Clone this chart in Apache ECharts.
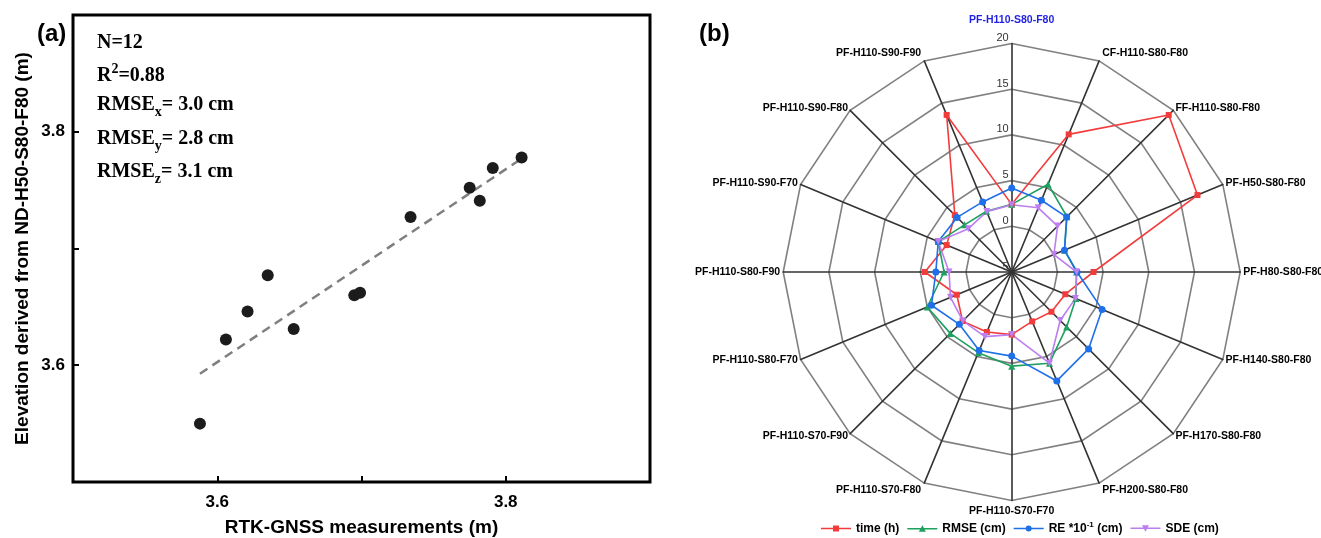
<!DOCTYPE html>
<html>
<head>
<meta charset="utf-8">
<script src="https://cdn.jsdelivr.net/npm/echarts@6/dist/echarts.min.js"></script>
<style>
html,body{margin:0;padding:0;background:#fff;}
#chart{width:1321px;height:538px;}
</style>
</head>
<body>
<div id="chart"></div>
<script>
// ---------- Panel (a): scatter ----------
const rtkX = [3.588, 3.606, 3.621, 3.635, 3.653, 3.695, 3.699, 3.734, 3.775, 3.782, 3.791, 3.811];
const elevY = [3.550, 3.622, 3.646, 3.677, 3.631, 3.660, 3.662, 3.727, 3.752, 3.741, 3.769, 3.778];
const xTickLabels = [3.6, 3.8];
const yTickLabels = [3.6, 3.8];
const statLines = ['N=12', 'R2=0.88', 'RMSEx= 3.0 cm', 'RMSEy= 2.8 cm', 'RMSEz= 3.1 cm'];

// ---------- Panel (b): radar (clockwise from top) ----------
const radarCategories = [
  'PF-H110-S80-F80', 'CF-H110-S80-F80', 'FF-H110-S80-F80', 'PF-H50-S80-F80',
  'PF-H80-S80-F80', 'PF-H140-S80-F80', 'PF-H170-S80-F80', 'PF-H200-S80-F80',
  'PF-H110-S70-F70', 'PF-H110-S70-F80', 'PF-H110-S70-F90', 'PF-H110-S80-F70',
  'PF-H110-S80-F90', 'PF-H110-S90-F70', 'PF-H110-S90-F80', 'PF-H110-S90-F90'
];
const timeH   = [2.4, 11.3, 19.3, 17.0, 3.95, 1.35, 1.15, 0.85, 1.85, 2.1, 2.6, 1.5, 4.5, 2.7, 3.8, 13.6];
const rmseCm  = [2.4, 5.4, 3.55, 1.25, 2.1, 2.6, 3.5, 5.8, 5.3, 4.55, 4.5, 5.0, 2.4, 3.7, 2.3, 2.2];
const reCm    = [4.2, 3.5, 3.5, 1.25, 2.15, 5.7, 6.9, 7.9, 4.2, 4.3, 3.1, 4.5, 3.3, 3.7, 3.45, 3.3];
const sdeCm   = [2.35, 2.6, 2.1, 0.0, 2.1, 2.55, 2.5, 5.8, 1.85, 2.65, 2.55, 2.25, 1.85, 3.7, 1.7, 2.15];
const seriesNames = ['time (h)', 'RMSE (cm)', 'RE *10-1 (cm)', 'SDE (cm)'];
const radarTicks = [-5, 20];

const SANS = 'Liberation Sans, Arial, sans-serif';
const SERIF = 'Liberation Serif, Times New Roman, serif';

// linear regression for the dashed fit line
const n = rtkX.length;
const mx = rtkX.reduce((a, b) => a + b, 0) / n;
const my = elevY.reduce((a, b) => a + b, 0) / n;
let sxy = 0, sxx = 0;
for (let i = 0; i < n; i++) { sxy += (rtkX[i] - mx) * (elevY[i] - my); sxx += (rtkX[i] - mx) ** 2; }
const slope = sxy / sxx, icpt = my - slope * mx;
const xMin = Math.min(...rtkX), xMax = Math.max(...rtkX);
const fitLine = [[xMin, icpt + slope * xMin], [xMax, icpt + slope * xMax]];

// ECharts radar runs counter-clockwise; reorder so the picture runs clockwise
const N16 = radarCategories.length;
const ccw = radarCategories.map((_, k) => (N16 - k) % N16);
const reorder = arr => ccw.map(i => arr[i]);

const indicators = ccw.map((i, k) => {
  const ind = { name: radarCategories[i], min: radarTicks[0], max: radarTicks[1] };
  if (i === 1 || i === 15 || i === 7 || i === 9) ind.nameGap = 8;
  if (i === 8) ind.nameGap = 5;
  if (i === 0) {
    ind.color = '#1f1fe6';
    ind.nameGap = 18;
    ind.axisLabel = { show: true };
  }
  return ind;
});

const colors = ['#f23c3c', '#1ea05f', '#1f6fe8', '#bd7ef0'];
const symbols = ['rect', 'triangle', 'circle', 'triangle'];
const symbolRot = [0, 0, 0, 180];
const values = [timeH, rmseCm, reCm, sdeCm];

const legendIcons = [
  'path://M0,3.3H30V4.7H0Z M12,1H18V7H12Z',
  'path://M0,3.3H30V4.7H0Z M15,0.5L18.5,7L11.5,7Z',
  'path://M0,3.3H30V4.7H0Z M12,4A3,3 0 1,1 18,4A3,3 0 1,1 12,4Z',
  'path://M0,3.3H30V4.7H0Z M11.5,1L18.5,1L15,7.5Z'
];

const richStat = {
  m: { fontFamily: SERIF, fontWeight: 'bold', fontSize: 20, color: '#000', lineHeight: 28, verticalAlign: 'middle' },
  sub: { fontFamily: SERIF, fontWeight: 'bold', fontSize: 14, color: '#000', lineHeight: 12, verticalAlign: 'bottom' },
  sup: { fontFamily: SERIF, fontWeight: 'bold', fontSize: 14, color: '#000', lineHeight: 14, verticalAlign: 'top' }
};
function statRich(s) {
  if (s.startsWith('R2')) return '{m|R}{sup|2}{m|' + s.slice(2) + '}';
  if (s.startsWith('RMSE')) return '{m|RMSE}{sub|' + s[4] + '}{m|' + s.slice(5) + '}';
  return '{m|' + s + '}';
}
const statTops = [33, 62, 95, 129, 162];

const chart = echarts.init(document.getElementById('chart'), null, { renderer: 'canvas' });
chart.setOption({
  backgroundColor: '#fff',
  animation: false,
  grid: {
    left: 73, top: 15, right: 671, bottom: 56, outerBoundsMode: 'none', containLabel: false,
    show: true, borderColor: '#000', borderWidth: 3, backgroundColor: 'transparent'
  },
  xAxis: {
    type: 'value', min: 3.5, max: 3.9, interval: 0.1,
    name: 'RTK-GNSS measurements (m)', nameLocation: 'middle', nameGap: 36,
    nameTextStyle: { fontFamily: SANS, fontWeight: 'bold', fontSize: 19, color: '#000' },
    axisLine: { show: false },
    axisTick: { show: true, inside: true, length: 6, lineStyle: { color: '#000', width: 2 } },
    splitLine: { show: false },
    axisLabel: {
      margin: 12, fontFamily: SANS, fontWeight: 'bold', fontSize: 17, color: '#000',
      formatter: v => xTickLabels.some(t => Math.abs(t - v) < 1e-6) ? v.toFixed(1) : ''
    }
  },
  yAxis: {
    type: 'value', min: 3.5, max: 3.9, interval: 0.1,
    name: 'Elevation derived from ND-H50-S80-F80 (m)', nameLocation: 'middle', nameGap: 41,
    nameTextStyle: { fontFamily: SANS, fontWeight: 'bold', fontSize: 19, color: '#000' },
    axisLine: { show: false },
    axisTick: { show: true, inside: true, length: 6, lineStyle: { color: '#000', width: 2 } },
    splitLine: { show: false },
    axisLabel: {
      margin: 8, fontFamily: SANS, fontWeight: 'bold', fontSize: 17, color: '#000',
      formatter: v => yTickLabels.some(t => Math.abs(t - v) < 1e-6) ? v.toFixed(1) : ''
    }
  },
  radar: {
    center: [1011.7, 272], radius: 228.5, startAngle: 90,
    shape: 'polygon', splitNumber: 5,
    indicator: indicators,
    nameGap: 3,
    axisName: { color: '#000', fontFamily: SANS, fontWeight: 'bold', fontSize: 10.5 },
    splitLine: { lineStyle: { color: '#808080', width: 1.6 } },
    splitArea: { show: false },
    axisLine: { lineStyle: { color: '#333', width: 1.6 } },
    axisTick: { show: false },
    axisLabel: { show: false, color: '#333', fontFamily: SANS, fontSize: 11, margin: 3, verticalAlign: 'bottom', showMinLabel: true }
  },
  legend: {
    left: 816, top: 516, itemWidth: 30, itemHeight: 8, itemGap: 8,
    data: seriesNames.map((nm, i) => ({ name: nm, icon: legendIcons[i] })),
    formatter: nm => nm === seriesNames[2] ? '{b|RE *10}{s|-1}{b| (cm)}' : '{b|' + nm + '}',
    textStyle: {
      rich: {
        b: { fontFamily: SANS, fontWeight: 'bold', fontSize: 12, color: '#000', lineHeight: 15 },
        s: { fontFamily: SANS, fontWeight: 'bold', fontSize: 8, color: '#000', lineHeight: 9, verticalAlign: 'top' }
      }
    }
  },
  graphic: [
    { type: 'text', left: 37, top: 22, style: { text: '(a)', font: 'bold 24px ' + SANS, fill: '#000' } },
    { type: 'text', left: 699, top: 22, style: { text: '(b)', font: 'bold 24px ' + SANS, fill: '#000' } },
    ...statLines.map((s, i) => ({ type: 'text', left: 97, top: statTops[i], style: { text: statRich(s), rich: richStat } }))
  ],
  series: [
    {
      type: 'scatter', data: rtkX.map((x, i) => [x, elevY[i]]),
      symbolSize: 12, itemStyle: { color: '#1c1c1c', opacity: 1 }, z: 3
    },
    {
      type: 'line', data: fitLine, showSymbol: false, symbol: 'none', z: 2,
      lineStyle: { color: '#7f7f7f', width: 2.5, type: [9, 6] }
    },
    {
      type: 'radar',
      data: values.map((arr, i) => ({
        name: seriesNames[i],
        value: reorder(arr),
        symbol: symbols[i], symbolRotate: symbolRot[i], symbolSize: i === 0 ? 6 : 7,
        itemStyle: { color: colors[i] },
        lineStyle: { color: colors[i], width: 1.6 }
      }))
    }
  ]
});
</script>
</body>
</html>
